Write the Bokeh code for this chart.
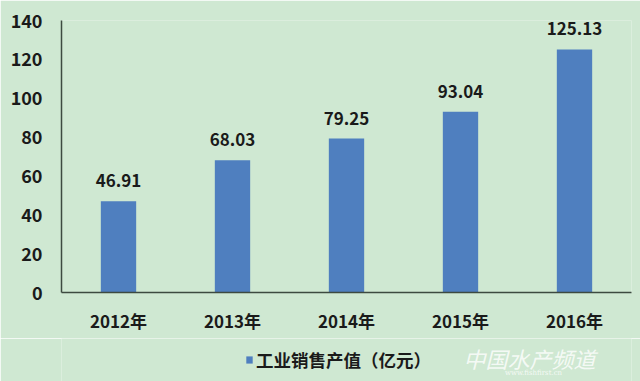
from bokeh.plotting import figure
from bokeh.layouts import column
from bokeh.models import ColumnDataSource, LabelSet, Legend, LegendItem, Label
from bokeh.core.properties import value
from bokeh.embed import file_html
from bokeh.resources import INLINE

years = ["2012年", "2013年", "2014年", "2015年", "2016年"]
sales = [46.91, 68.03, 79.25, 93.04, 125.13]
labels = ["46.91", "68.03", "79.25", "93.04", "125.13"]
y_ticks = [0, 20, 40, 60, 80, 100, 120, 140]
series_name = "工业销售产值（亿元）"
watermark = "中国水产频道"
watermark_url = "www.fishfirst.cn"

FONT = "Noto Sans CJK SC"
BG = "#cfe8d2"
BAR = "#4f7fbf"
TXT = "#1a1a1a"
AXIS = "#3d4a40"

src = ColumnDataSource(dict(x=years, y=sales, lab=labels))

p = figure(width=640, height=338, x_range=years, y_range=(0, 140),
           output_backend="svg", toolbar_location=None,
           min_border_left=61, min_border_right=9, min_border_top=20, min_border_bottom=46,
           background_fill_color=BG, border_fill_color=BG, outline_line_color=None)

r = p.vbar(x="x", top="y", width=0.31, source=src, fill_color=BAR, line_color=None)

p.xgrid.grid_line_color = None
p.ygrid.grid_line_color = None
p.x_range.range_padding = 0

p.yaxis.ticker = y_ticks
p.yaxis.major_tick_line_color = None
p.yaxis.minor_tick_line_color = None
p.yaxis.major_tick_out = 0
p.yaxis.major_label_standoff = 19
p.yaxis.axis_line_color = AXIS
p.yaxis.axis_line_width = 1.5
p.yaxis.major_label_text_font = FONT
p.yaxis.major_label_text_font_style = "bold"
p.yaxis.major_label_text_font_size = "18px"
p.yaxis.major_label_text_color = TXT

p.xaxis.major_tick_line_color = None
p.xaxis.minor_tick_line_color = None
p.xaxis.major_tick_out = 0
p.xaxis.major_label_standoff = 15
p.xaxis.axis_line_color = AXIS
p.xaxis.axis_line_width = 1.5
p.xaxis.major_label_text_font = FONT
p.xaxis.major_label_text_font_style = "bold"
p.xaxis.major_label_text_font_size = "17px"
p.xaxis.major_label_text_color = TXT

ls = LabelSet(x="x", y="y", text="lab", source=src, y_offset=14,
              text_align="center", text_baseline="alphabetic",
              text_font=value(FONT), text_font_style="bold",
              text_font_size="17px", text_color=TXT)
p.add_layout(ls)

# bottom strip: legend + watermark (frame is aligned with the main frame, x from 61)
q = figure(width=640, height=43, x_range=(0, 1), y_range=(0, 1),
           output_backend="svg", toolbar_location=None,
           x_axis_type=None, y_axis_type=None,
           min_border_left=61, min_border_right=9,
           min_border_top=0, min_border_bottom=0,
           background_fill_color=BG, border_fill_color=BG, outline_line_color=None)
legend_key = q.vbar(x=[0.5], top=[0], bottom=[0], width=0.0, fill_color=BAR, line_color=None)

legend = Legend(items=[LegendItem(label=series_name, renderers=[legend_key])],
                location=(184, 9), orientation="horizontal",
                background_fill_alpha=0, border_line_color=None,
                padding=0, margin=0, spacing=0,
                glyph_width=8, glyph_height=9, label_standoff=3,
                label_text_font=FONT, label_text_font_style="bold",
                label_text_font_size="17.5px", label_text_color=TXT,
                label_height=22)
q.add_layout(legend, "center")

q.add_layout(Label(x=402, y=24, x_units="screen", y_units="screen", text=watermark,
                   text_font=FONT, text_font_style="italic", text_font_size="22px",
                   text_baseline="middle", text_color="white", text_alpha=0.8))
q.add_layout(Label(x=472, y=9, x_units="screen", y_units="screen", text=watermark_url,
                   text_font="DejaVu Serif", text_font_size="7px", text_align="center",
                   text_baseline="middle", text_color="white", text_alpha=0.8))

layout = column(p, q, spacing=0)
open("out.html", "w").write(file_html(layout, INLINE))
